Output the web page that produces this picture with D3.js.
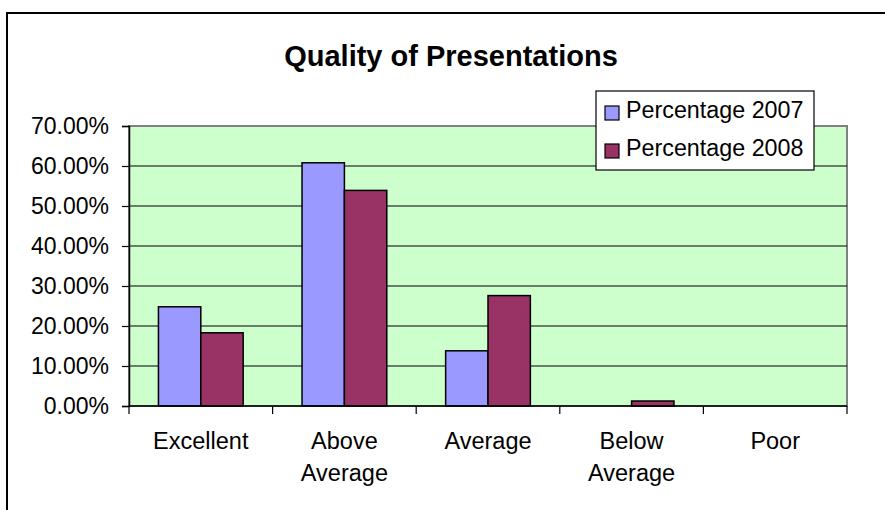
<!DOCTYPE html>
<html>
<head>
<meta charset="utf-8">
<script src="https://cdnjs.cloudflare.com/ajax/libs/d3/7.8.5/d3.min.js"></script>
<style>
body{margin:0;background:#fff;}
text{font-family:"Liberation Sans",Arial,sans-serif;fill:#000;}
</style>
</head>
<body>
<script>
var categories = ["Excellent", "Above Average", "Average", "Below Average", "Poor"];
var seriesNames = ["Percentage 2007", "Percentage 2008"];
var values2007 = [0.248, 0.608, 0.138, 0, 0];
var values2008 = [0.183, 0.539, 0.276, 0.0125, 0];
var yTicks = [0, 0.1, 0.2, 0.3, 0.4, 0.5, 0.6, 0.7];
var colors = ["#9999FF", "#993366"];

var width = 885, height = 510;
// plot area edges (note: "top" is taken by window.top)
var pLeft = 129, pRight = 847, pTop = 126, pBottom = 406;

var svg = d3.select("body").append("svg")
	.attr("width", width)
	.attr("height", height);

// outer chart border (cut off at right and bottom)
svg.append("rect")
	.attr("x", 7).attr("y", 13)
	.attr("width", 1000).attr("height", 1000)
	.attr("fill", "#fff")
	.attr("stroke", "#000").attr("stroke-width", 2);

svg.append("text")
	.attr("x", 451).attr("y", 66)
	.attr("text-anchor", "middle")
	.attr("font-size", 29).attr("font-weight", "bold")
	.text("Quality of Presentations");

var y = d3.scaleLinear().domain([0, 0.7]).range([pBottom, pTop]);
var x0 = d3.scaleBand().domain(categories).range([pLeft, pRight]);
var bw = x0.bandwidth();
var x1 = d3.scaleBand().domain(seriesNames).range([bw * 0.205, bw * 0.795]);

svg.append("rect")
	.attr("x", pLeft).attr("y", pTop)
	.attr("width", pRight - pLeft).attr("height", pBottom - pTop)
	.attr("fill", "#CCFFCC")
	.attr("stroke", "#808080").attr("stroke-width", 2);

// gridlines
svg.append("g").selectAll("line")
	.data(yTicks.slice(1, -1))
	.enter().append("line")
	.attr("x1", pLeft).attr("x2", pRight)
	.attr("y1", function(d){return y(d);}).attr("y2", function(d){return y(d);})
	.attr("stroke", "#000").attr("stroke-width", 1.2);

var data = [];
categories.forEach(function(c, i){
	data.push({cat:c, s:seriesNames[0], v:values2007[i], k:0});
	data.push({cat:c, s:seriesNames[1], v:values2008[i], k:1});
});

svg.append("g").selectAll("rect")
	.data(data.filter(function(d){return d.v > 0;}))
	.enter().append("rect")
	.attr("x", function(d){return x0(d.cat) + x1(d.s);})
	.attr("y", function(d){return y(d.v);})
	.attr("width", x1.bandwidth())
	.attr("height", function(d){return pBottom - y(d.v);})
	.attr("fill", function(d){return colors[d.k];})
	.attr("stroke", "#000").attr("stroke-width", 1.5);

// y axis
var yAxis = svg.append("g")
	.attr("transform", "translate(" + pLeft + ",0)")
	.call(d3.axisLeft(y).tickValues(yTicks).tickSize(7).tickPadding(13)
		.tickFormat(d3.format(".2%")));
yAxis.selectAll("text").attr("font-size", 23).attr("font-family", "Liberation Sans, Arial, sans-serif");
yAxis.select(".domain").attr("stroke", "#000").attr("stroke-width", 1.5);
yAxis.selectAll(".tick line").attr("stroke", "#000").attr("stroke-width", 1.2);

// x axis
var xg = svg.append("g");
xg.append("line")
	.attr("x1", pLeft).attr("x2", pRight)
	.attr("y1", pBottom).attr("y2", pBottom)
	.attr("stroke", "#000").attr("stroke-width", 1.5);
xg.selectAll(".xt")
	.data(categories.concat([null]))
	.enter().append("line")
	.attr("x1", function(d, i){return pLeft + i * bw;})
	.attr("x2", function(d, i){return pLeft + i * bw;})
	.attr("y1", pBottom).attr("y2", pBottom + 8)
	.attr("stroke", "#000").attr("stroke-width", 1.2);
xg.selectAll(".cl")
	.data(categories)
	.enter().append("text")
	.attr("text-anchor", "middle")
	.attr("font-size", 23.5)
	.attr("x", function(d){return x0(d) + bw / 2;})
	.attr("y", 449)
	.each(function(d){
		var words = d.split(" ");
		var t = d3.select(this);
		words.forEach(function(w, i){
			t.append("tspan")
				.attr("x", x0(d) + bw / 2)
				.attr("dy", i ? 32 : 0)
				.text(w);
		});
	});

// legend
var lg = svg.append("g");
lg.append("rect")
	.attr("x", 596).attr("y", 91)
	.attr("width", 218).attr("height", 79)
	.attr("fill", "#fff").attr("stroke", "#000").attr("stroke-width", 1.2);
seriesNames.forEach(function(s, i){
	lg.append("rect")
		.attr("x", 605).attr("y", 106 + i * 38)
		.attr("width", 14).attr("height", 14)
		.attr("fill", colors[i]).attr("stroke", "#000").attr("stroke-width", 1.2);
	lg.append("text")
		.attr("x", 626).attr("y", 118 + i * 38)
		.attr("font-size", 23.3)
		.text(s);
});
</script>
</body>
</html>
